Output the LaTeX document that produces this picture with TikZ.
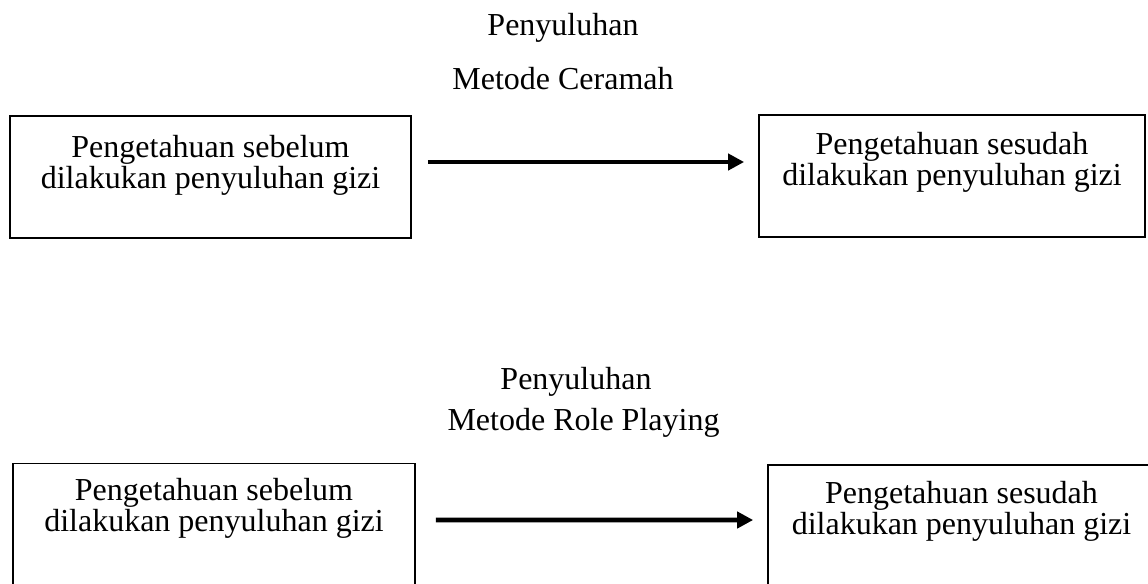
\documentclass[tikz,border=0pt]{standalone}
\usepackage{fontspec}
\setmainfont{Liberation Serif}
\usetikzlibrary{arrows.meta}
\tikzstyle{boxes} = [rectangle, draw=black, line width=0.65pt, minimum height=45.75pt, inner sep=0pt]
\tikzstyle{words} = [align=center, inner sep=0pt, font=\fontsize{12}{11.6}\selectfont]
\tikzstyle{arrow} = [line width=1.8pt, -{Triangle[length=6pt,width=6pt]}]

\begin{document}
\begin{tikzpicture}[x=0.375pt, y=-0.375pt]
        \useasboundingbox (0,0) rectangle (1148,583);

        \node[boxes, minimum width=150.4pt] (before1) at (210.5,177) {};
        \node[boxes, minimum width=144.75pt] (after1) at (952,176) {};
        \node[boxes, minimum width=150.75pt] (before2) at (214,524.5) {};
        \node[boxes, minimum width=145.1pt] (after2) at (961.5,526) {};

        \node[words, anchor=north] (before1text) at ([yshift=-7.5pt]before1.north) {Pengetahuan sebelum\\dilakukan penyuluhan gizi};
        \node[words, anchor=north] (after1text) at ([yshift=-6.75pt]after1.north) {Pengetahuan sesudah\\dilakukan penyuluhan gizi};
        \node[words, anchor=north] (before2text) at ([yshift=-5.6pt]before2.north) {Pengetahuan sebelum\\dilakukan penyuluhan gizi};
        \node[words, anchor=north] (after2text) at ([yshift=-6.4pt]after2.north) {Pengetahuan sesudah\\dilakukan penyuluhan gizi};

        \node[words, anchor=base] (title1) at (563,35) {Penyuluhan};
        \node[words, anchor=base] (method1) at (563,89) {Metode Ceramah};
        \node[words, anchor=base] (title2) at (576,389) {Penyuluhan};
        \node[words, anchor=base] (method2) at (583.5,430) {Metode Role Playing};

        \draw[arrow] ([xshift=6pt,yshift=5.625pt]before1.east) -- ([xshift=-5.25pt,yshift=5.25pt]after1.west);
        \draw[arrow] ([xshift=7.5pt,yshift=1.7pt]before2.east) -- ([xshift=-5.25pt,yshift=2.25pt]after2.west);

    \end{tikzpicture}
\end{document}
